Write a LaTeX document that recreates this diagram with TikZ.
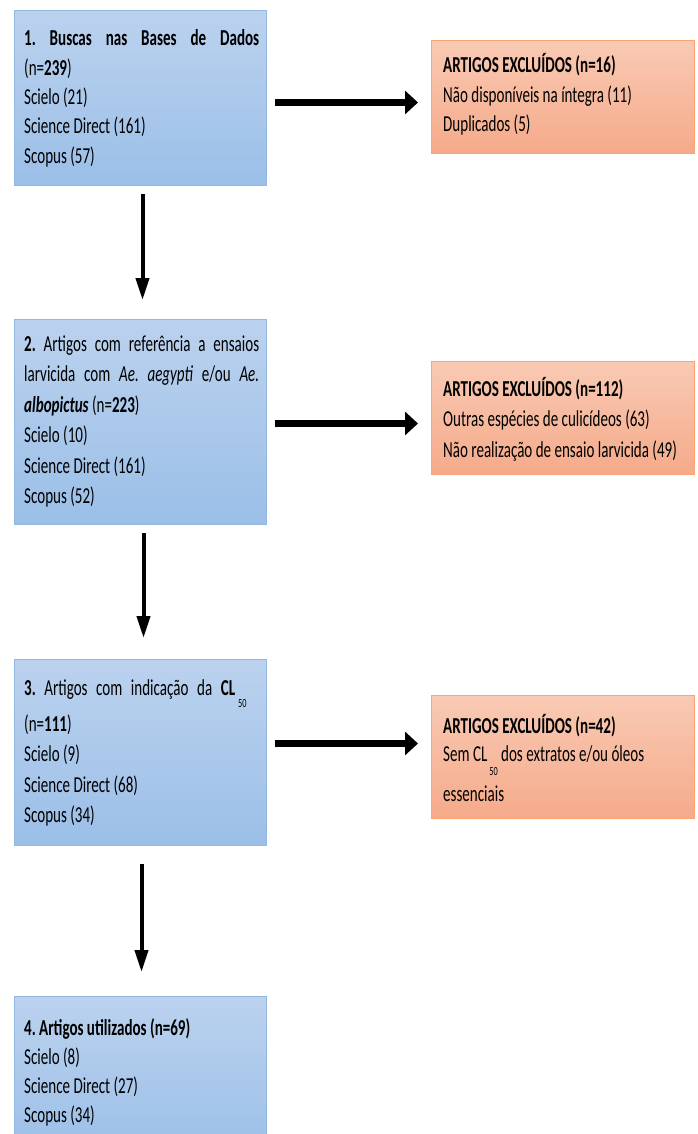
\documentclass[tikz,border=0pt]{standalone}
\usepackage{fontspec}
\setmainfont[FakeStretch=0.66]{Carlito}
\usetikzlibrary{arrows.meta}
\definecolor{bluetop}{RGB}{187,210,238}
\definecolor{bluebot}{RGB}{155,191,232}
\definecolor{blueline}{RGB}{149,183,226}
\definecolor{orgtop}{RGB}{249,202,180}
\definecolor{orgbot}{RGB}{245,170,138}
\definecolor{orgline}{RGB}{248,165,115}
\lineskiplimit=-100pt
\frenchspacing
\tikzset{
 box/.style={draw, line width=1pt, anchor=north west, inner sep=0pt},
 bluebox/.style={box, draw=blueline, top color=bluetop, bottom color=bluebot},
 orgbox/.style={box, draw=orgline, top color=orgtop, bottom color=orgbot},
 txt/.style={anchor=base west, inner sep=0pt},
 harrow/.style={line width=7pt, -{Triangle[length=13pt,width=23pt]}},
 varrow/.style={line width=4pt, -{Triangle[length=22pt,width=13pt]}},
}
\newcommand{\bodyfont}[1]{\fontsize{22.8}{#1}\selectfont\frenchspacing}
\newcommand{\subfifty}[1]{\raisebox{#1}{\fontsize{12.5}{12.5}\selectfont 50}}
\begin{document}
\begin{tikzpicture}[x=1pt,y=-1pt]
\useasboundingbox (0,0) rectangle (697,1134);
\clip (0,0) rectangle (697,1134);
% blue boxes
\node[bluebox, minimum width=252pt, minimum height=175pt] (b1) at (14,10) {};
\node[bluebox, minimum width=252pt, minimum height=205pt] (b2) at (14,319) {};
\node[bluebox, minimum width=252pt, minimum height=186pt] (b3) at (14,659) {};
\node[bluebox, minimum width=252pt, minimum height=160pt] (b4) at (14,996) {};
% orange boxes
\node[orgbox, minimum width=263pt, minimum height=113pt] (e1) at (431,40) {};
\node[orgbox, minimum width=263pt, minimum height=113pt] (e2) at (431,361) {};
\node[orgbox, minimum width=263pt, minimum height=123pt] (e3) at (431,695) {};
% texts
\node[txt] (b1t) at (24,46) {\bodyfont{29.3}\parbox[t]{235pt}{%
\makebox[235pt][s]{\bfseries 1. Buscas nas Bases de Dados}\\
(n=\textbf{239})\\
Scielo (21)\\
Science Direct (161)\\
Scopus (57)}};
\node[txt] (b2t) at (24,351) {\bodyfont{30.5}\parbox[t]{235pt}{%
\makebox[235pt][s]{\textbf{2.} Artigos com referência a ensaios}\\
\makebox[235pt][s]{larvicida com \textit{Ae. aegypti} e/ou \textit{Ae.}}\\
\textbf{\textit{albopictus}} (n=\textbf{223})\\
Scielo (10)\\
Science Direct (161)\\
Scopus (52)}};
\node[txt] (b3t) at (24,695) {\bodyfont{30.5}\parbox[t]{235pt}{%
\makebox[211pt][s]{\textbf{3.} Artigos com indicação da \textbf{CL}}\hspace{3pt}\subfifty{-12pt}\\[5.5pt]
(n=\textbf{111})\\
Scielo (9)\\
Science Direct (68)\\
Scopus (34)}};
\node[txt] (b4t) at (24,1035) {\bodyfont{29.3}\parbox[t]{235pt}{%
\textbf{4. Artigos utilizados (n=69)}\\
Scielo (8)\\
Science Direct (27)\\
Scopus (34)}};
\node[txt] (e1t) at (443,73) {\bodyfont{29.5}\parbox[t]{245pt}{%
\textbf{ARTIGOS EXCLUÍDOS (n=16)}\\
Não disponíveis na íntegra (11)\\
Duplicados (5)}};
\node[txt] (e2t) at (443,396) {\bodyfont{30.5}\parbox[t]{245pt}{%
\textbf{ARTIGOS EXCLUÍDOS (n=112)}\\
Outras espécies de culicídeos (63)\\
Não realização de ensaio larvicida (49)}};
\node[txt] (e3t) at (443,733) {\bodyfont{28}\parbox[t]{245pt}{%
\textbf{ARTIGOS EXCLUÍDOS (n=42)}\\
Sem CL\hspace{2pt}\subfifty{-14pt}\ dos extratos e/ou óleos\\[10pt]
essenciais}};
% horizontal arrows
\draw[harrow, shorten <=8pt, shorten >=13pt] ([yshift=-4.5pt]b1.east) -- ([yshift=-4.5pt]b1.east -| e1.west);
\draw[harrow, shorten <=8pt, shorten >=13pt] ([yshift=-1.5pt]b2.east) -- ([yshift=-1.5pt]b2.east -| e2.west);
\draw[harrow, shorten <=8pt, shorten >=13pt] ([yshift=9pt]b3.east) -- ([yshift=9pt]b3.east -| e3.west);
% vertical arrows
\draw[varrow, shorten <=8pt, shorten >=19pt] ([xshift=2pt]b1.south) -- ([xshift=2pt]b1.south |- b2.north);
\draw[varrow, shorten <=8pt, shorten >=21pt] ([xshift=3pt]b2.south) -- ([xshift=3pt]b2.south |- b3.north);
\draw[varrow, shorten <=18pt, shorten >=24pt] ([xshift=1pt]b3.south) -- ([xshift=1pt]b3.south |- b4.north);
\end{tikzpicture}
\end{document}
